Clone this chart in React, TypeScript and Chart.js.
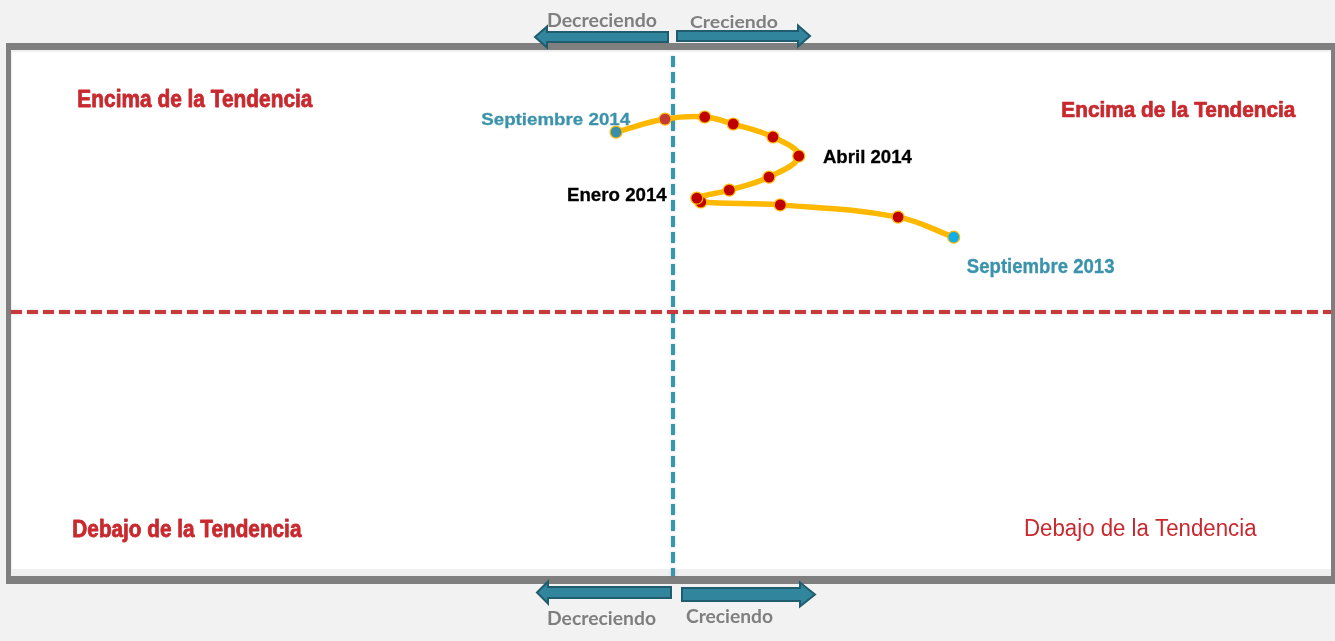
import React, { useEffect, useRef } from "react";
import { Chart, registerables } from "chart.js";

Chart.register(...registerables);

// ---- Data ----
const months = [
  "Septiembre 2013", "Octubre 2013", "Noviembre 2013", "Diciembre 2013",
  "Enero 2014", "Febrero 2014", "Marzo 2014", "Abril 2014", "Mayo 2014",
  "Junio 2014", "Julio 2014", "Agosto 2014", "Septiembre 2014",
];
const growthValues = [42.4, 34.0, 16.2, 4.2, 3.6, 8.5, 14.5, 19.0, 15.1, 9.1, 4.8, -1.2, -8.6];
const trendValues = [28.8, 36.5, 41.2, 42.3, 43.8, 46.9, 51.9, 60.0, 67.3, 72.3, 75.0, 74.2, 69.2];
const labeledMonths = ["Septiembre 2013", "Enero 2014", "Abril 2014", "Septiembre 2014"];
const quadrantLabels = ["Encima de la Tendencia", "Encima de la Tendencia", "Debajo de la Tendencia", "Debajo de la Tendencia"];
const arrowLabels = ["Decreciendo", "Creciendo"];

function fitText(
  ctx: CanvasRenderingContext2D, text: string, x0: number, x1: number,
  capTop: number, baseline: number, weight: string, family: string, color: string,
  outline = 0
) {
  ctx.save();
  ctx.font = `${weight} 100px ${family}`;
  const m = ctx.measureText(text);
  const w = m.actualBoundingBoxLeft + m.actualBoundingBoxRight;
  const size = (100 * (x1 - x0 - outline)) / w;
  ctx.font = `${weight} ${size}px ${family}`;
  const m2 = ctx.measureText(text);
  const asc = ctx.measureText("H").actualBoundingBoxAscent;
  const sy = Math.max(0.9, Math.min(1.12, (baseline - capTop) / asc));
  ctx.translate(x0 + outline / 2 + m2.actualBoundingBoxLeft, baseline);
  ctx.scale(1, sy);
  ctx.fillStyle = color;
  ctx.textAlign = "left";
  ctx.textBaseline = "alphabetic";
  if (outline > 0) {
    ctx.strokeStyle = color;
    ctx.lineWidth = outline;
    ctx.lineJoin = "round";
    ctx.strokeText(text, 0, 0);
  }
  ctx.fillText(text, 0, 0);
  ctx.restore();
}

function drawArrow(
  ctx: CanvasRenderingContext2D, tip: number, back: number, end: number,
  cy: number, bodyHalf: number, headHalf: number
) {
  ctx.save();
  ctx.beginPath();
  ctx.moveTo(tip, cy);
  ctx.lineTo(back, cy - headHalf);
  ctx.lineTo(back, cy - bodyHalf);
  ctx.lineTo(end, cy - bodyHalf);
  ctx.lineTo(end, cy + bodyHalf);
  ctx.lineTo(back, cy + bodyHalf);
  ctx.lineTo(back, cy + headHalf);
  ctx.closePath();
  ctx.fillStyle = "#31869d";
  ctx.fill();
  ctx.strokeStyle = "#1f5c6d";
  ctx.lineWidth = 2;
  ctx.lineJoin = "miter";
  ctx.stroke();
  ctx.restore();
}

const framePlugin = {
  id: "framePlugin",
  beforeDraw(chart: any) {
    const ctx = chart.ctx as CanvasRenderingContext2D;
    ctx.save();
    ctx.fillStyle = "#f2f2f2";
    ctx.fillRect(0, 0, chart.width, chart.height);
    ctx.fillStyle = "#7f7f7f";
    ctx.fillRect(6, 43, chart.width - 6, 541);
    ctx.fillStyle = "#efefef";
    ctx.fillRect(11, 50, 1320, 526);
    ctx.fillStyle = "#ffffff";
    ctx.fillRect(12, 52, 1319, 517);
    ctx.restore();
  },
  beforeDatasetsDraw(chart: any) {
    const ctx = chart.ctx as CanvasRenderingContext2D;
    const xs = chart.scales.x;
    const ys = chart.scales.y;
    const x0 = xs.getPixelForValue(0);
    const y0 = ys.getPixelForValue(0);
    ctx.save();
    ctx.shadowColor = "rgba(0,0,0,0.18)";
    ctx.shadowBlur = 3;
    ctx.lineWidth = 4;
    ctx.setLineDash([11, 5]);
    ctx.strokeStyle = "#3a95ae";
    ctx.beginPath();
    ctx.moveTo(x0, 56);
    ctx.lineTo(x0, 576);
    ctx.stroke();
    ctx.strokeStyle = "#c8383c";
    ctx.beginPath();
    ctx.moveTo(11, y0);
    ctx.lineTo(1331, y0);
    ctx.stroke();
    ctx.restore();
  },
  afterDraw(chart: any) {
    const ctx = chart.ctx as CanvasRenderingContext2D;
    const xs = chart.scales.x;
    const x0 = xs.getPixelForValue(0);
    const red = "#c8292e";
    const arial = "'Liberation Sans', Arial, sans-serif";
    // quadrant labels
    fitText(ctx, quadrantLabels[0], 78, 313, 91, 106.7, "bold", arial, red, 0.7);
    fitText(ctx, quadrantLabels[1], 1062, 1296, 101.7, 116.7, "bold", arial, red, 0.7);
    fitText(ctx, quadrantLabels[2], 73, 302, 521, 536.7, "bold", arial, red, 0.7);
    fitText(ctx, quadrantLabels[3], 1025, 1256, 520, 535.7, "normal", arial, red);

    // point labels anchored to their points
    const meta = chart.getDatasetMeta(0);
    const offsets: Record<string, number[]> = {
      "Septiembre 2013": [13, 160, 21, 35.7],
      "Enero 2014": [-129, -30, -10, 3],
      "Abril 2014": [24, 113, -6, 7.3],
      "Septiembre 2014": [-135, 14, -18.7, -7],
    };
    const colors: Record<string, string> = {
      "Septiembre 2013": "#3b93ab",
      "Enero 2014": "#000000",
      "Abril 2014": "#000000",
      "Septiembre 2014": "#3b93ab",
    };
    labeledMonths.forEach((mName) => {
      const i = months.indexOf(mName);
      const el = meta.data[i];
      const o = offsets[mName];
      fitText(ctx, mName, el.x + o[0], el.x + o[1], el.y + o[2], el.y + o[3], "bold", arial, colors[mName], 0.3);
    });

    // arrows
    drawArrow(ctx, x0 - 138, x0 - 126, x0 - 5, 37, 5, 10.5);
    drawArrow(ctx, x0 + 137, x0 + 125, x0 + 4, 36, 5, 10.5);
    drawArrow(ctx, x0 - 136, x0 - 125, x0 - 2, 592.5, 5.5, 11);
    drawArrow(ctx, x0 + 142, x0 + 127, x0 + 9, 594.5, 6.5, 12);

    const gray = "#7f7f7f";
    const lato = "Lato, 'Open Sans', sans-serif";
    fitText(ctx, arrowLabels[0], x0 - 125, x0 - 17, 13.3, 26.7, "bold", lato, gray);
    fitText(ctx, arrowLabels[1], x0 + 17, x0 + 104, 15, 27.7, "bold", lato, gray);
    fitText(ctx, arrowLabels[0], x0 - 125, x0 - 18, 611.7, 625, "bold", lato, gray);
    fitText(ctx, arrowLabels[1], x0 + 13, x0 + 99, 610, 623.3, "bold", lato, gray);
  },
};

export default function App() {
  const canvasRef = useRef<HTMLCanvasElement | null>(null);

  useEffect(() => {
    document.body.style.margin = "0";
    const canvas = canvasRef.current;
    if (!canvas) return;
    const last = months.length - 1;
    const pointFill = months.map((_, i) =>
      i === 0 ? "#13aee6" : i === last ? "#3a8fa8" : i === last - 1 ? "#c43a34" : "#c00000"
    );
    const chart = new Chart(canvas, {
      type: "scatter",
      data: {
        labels: months,
        datasets: [
          {
            label: "Tendencia",
            data: months.map((_, i) => ({ x: growthValues[i], y: trendValues[i] })),
            showLine: true,
            borderColor: "#ffb800",
            borderWidth: 5.5,
            tension: 0.4,
            pointRadius: 6,
            pointBorderWidth: 1.2,
            pointBackgroundColor: pointFill,
            pointBorderColor: "#ffb800",
          },
        ],
      },
      options: {
        responsive: false,
        animation: false,
        devicePixelRatio: 1,
        layout: { autoPadding: false, padding: { left: 11, right: 0, top: 52, bottom: 69 } },
        scales: {
          x: { type: "linear", min: -100, max: 100, display: false },
          y: { type: "linear", min: -100, max: 100, display: false },
        },
        plugins: {
          legend: { display: false },
          tooltip: { enabled: false },
        },
      },
      plugins: [framePlugin],
    } as any);
    let alive = true;
    if ((document as any).fonts) {
      Promise.all([
        (document as any).fonts.load("bold 20px Lato"),
        (document as any).fonts.load("bold 20px 'Liberation Sans'"),
        (document as any).fonts.load("20px 'Liberation Sans'"),
      ]).then(() => { if (alive) chart.update(); }).catch(() => {});
    }
    return () => {
      alive = false;
      chart.destroy();
    };
  }, []);

  return (
    <div style={{ position: "fixed", left: 0, top: 0, width: 1335, height: 641 }}>
      <canvas ref={canvasRef} width={1335} height={641} style={{ display: "block" }} />
    </div>
  );
}
